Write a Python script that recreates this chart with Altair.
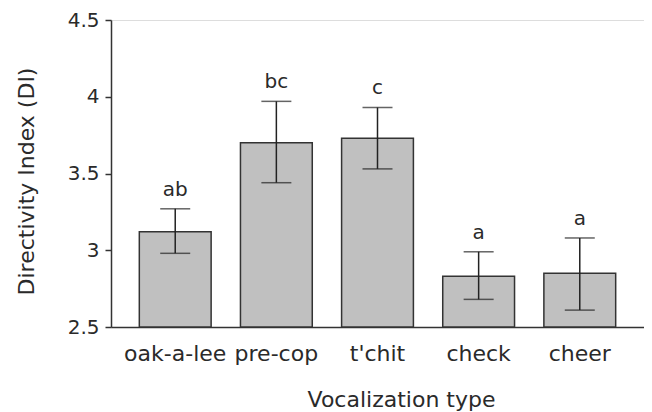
import altair as alt
import pandas as pd

categories = ["oak-a-lee", "pre-cop", "t'chit", "check", "cheer"]
means = [3.12, 3.70, 3.73, 2.83, 2.85]
upper = [3.27, 3.97, 3.93, 2.99, 3.08]
lower = [2.98, 3.44, 3.53, 2.68, 2.61]
letters = ["ab", "bc", "c", "a", "a"]

df = pd.DataFrame({"cat": categories, "mean": means, "hi": upper, "lo": lower, "lab": letters})

FONT = "DejaVu Sans"
INK = "#2a2a2a"

x = alt.X("cat:N", sort=categories, title="Vocalization type",
          scale=alt.Scale(paddingInner=0.29, paddingOuter=0.28),
          axis=alt.Axis(labelAngle=0, ticks=False, tickSize=0, labelPadding=33,
                        labelBaseline="alphabetic", labelFontSize=22, labelFont=FONT,
                        labelColor=INK, titleFont=FONT, titleFontSize=22,
                        titleFontWeight="normal", titleColor=INK,
                        titleX=290, titleY=79, titleBaseline="alphabetic",
                        titleAlign="center", titleAnchor="start",
                        domainColor="#333333", domainWidth=1.5))
yscale = alt.Scale(domain=[2.5, 4.5], nice=False, zero=False)
yaxis = alt.Axis(values=[2.5, 3, 3.5, 4, 4.5], labelExpr="datum.value",
                 tickSize=6, labelPadding=6, labelFontSize=20, labelFont=FONT,
                 labelColor=INK, tickColor="#333333", tickWidth=1.5,
                 domainColor="#333333", domainWidth=1.5, grid=False,
                 title="Directivity Index (DI)", titleFont=FONT, titleFontSize=22,
                 titleFontWeight="normal", titleColor=INK,
                 titleX=-78, titleY=161, titleBaseline="alphabetic",
                 titleAngle=-90, titleAlign="center", titleAnchor="start")

bars = alt.Chart(df).mark_bar(color="#c0c0c0", stroke="#333333", strokeWidth=1.5).encode(
    x=x,
    y=alt.Y("mean:Q", scale=yscale, axis=yaxis),
    y2=alt.datum(2.5),
)

rules = alt.Chart(df).mark_rule(color="#222222", strokeWidth=1.5).encode(
    x=alt.X("cat:N", sort=categories),
    y=alt.Y("lo:Q", scale=yscale),
    y2="hi:Q",
)

caps_hi = alt.Chart(df).mark_tick(color="#222222", thickness=1.5, size=30).encode(
    x=alt.X("cat:N", sort=categories),
    y=alt.Y("hi:Q", scale=yscale),
)
caps_lo = alt.Chart(df).mark_tick(color="#222222", thickness=1.5, size=30).encode(
    x=alt.X("cat:N", sort=categories),
    y=alt.Y("lo:Q", scale=yscale),
)

text = alt.Chart(df).mark_text(font=FONT, fontSize=20, color=INK, baseline="alphabetic",
                               dy=-13).encode(
    x=alt.X("cat:N", sort=categories),
    y=alt.Y("hi:Q", scale=yscale),
    text="lab:N",
)

chart = alt.layer(bars, rules, caps_hi, caps_lo, text).properties(
    width=533, height=307,
    autosize=alt.AutoSizeParams(type="none"),
    padding={"left": 103, "top": 12, "right": 0, "bottom": 92},
).configure_view(stroke=None).configure(background="white")

chart.save("out.html", embed_options={"renderer": "svg", "actions": False})
